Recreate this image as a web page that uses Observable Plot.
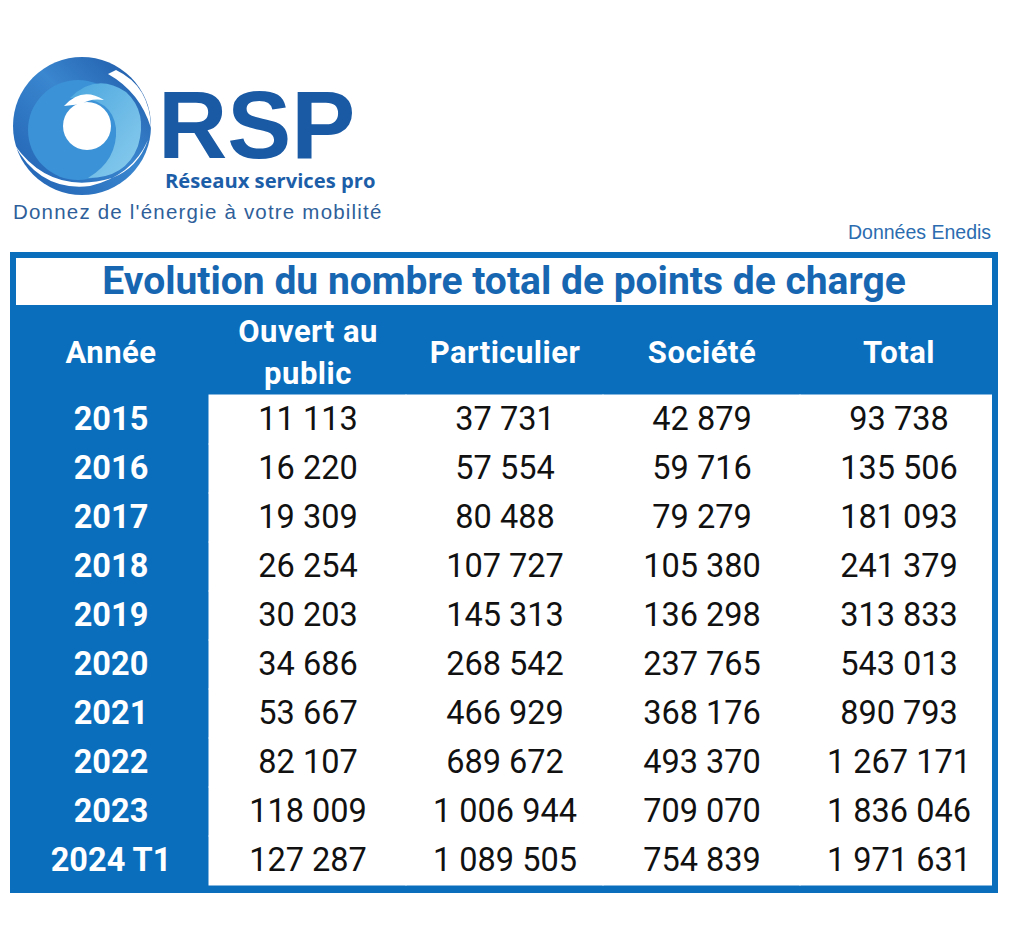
<!DOCTYPE html>
<html>
<head>
<meta charset="utf-8">
<script src="https://cdn.jsdelivr.net/npm/d3@7"></script>
<script src="https://cdn.jsdelivr.net/npm/@observablehq/plot@0.6"></script>
<style>
  html, body { margin: 0; padding: 0; background: #fff; }
  #page { position: relative; width: 1024px; height: 946px; overflow: hidden; background: #fff; font-family: Roboto, sans-serif; }
  #logo { position: absolute; left: 0; top: 0; }
  #source { position: absolute; left: 848px; top: 221px; font-family: "Liberation Sans", Arial, sans-serif; font-size: 19.5px; color: #2b6cb0; }
  #box { position: absolute; left: 10px; top: 252px; width: 988px; height: 641px; background: #0a6ebd; }
  #box svg { position: absolute; left: 0; top: 0; }
  #border { position: absolute; left: 0; top: 0; width: 988px; height: 641px; box-sizing: border-box; border: 6px solid #0a6ebd; pointer-events: none; }
  #title { position: absolute; left: 6px; top: 6px; width: 976px; height: 47px; background: #fff; color: #1666b2;
           font-family: Roboto, sans-serif; font-weight: 700; font-size: 39px;
           line-height: 47px; text-align: center; white-space: nowrap; }
</style>
</head>
<body>
<div id="page">
  <svg id="logo" width="400" height="240" viewBox="0 0 400 240">
    <defs>
      <linearGradient id="gOuter" x1="0" y1="1" x2="1" y2="0">
        <stop offset="0" stop-color="#1f5fb0"/>
        <stop offset="0.55" stop-color="#3a86cf"/>
        <stop offset="1" stop-color="#1c55a3"/>
      </linearGradient>
      <linearGradient id="gInner" x1="0" y1="0" x2="1" y2="1">
        <stop offset="0" stop-color="#4aa6de"/>
        <stop offset="1" stop-color="#8ccdee"/>
      </linearGradient>
    </defs>
    <circle cx="82" cy="126" r="69" fill="url(#gOuter)"/>
    <circle cx="78" cy="130" r="50" fill="#3c92d6"/>
    <path d="M 70 98 Q 96 72 126 92 Q 148 112 138 146 Q 126 178 88 178 Q 118 160 116 128 Q 112 96 70 98 Z" fill="url(#gInner)"/>
    <path d="M 14 144 Q 50 196 112 178 Q 138 168 148 140 Q 132 176 90 186 Q 40 192 14 144 Z" fill="#fff"/>
    <path d="M 116 70 Q 150 86 151 128 Q 140 92 108 74 Z" fill="#fff"/>
    <path d="M 64 106 Q 82 86 104 100 Q 90 98 82 104 Z" fill="#fff"/>
    <circle cx="87" cy="126" r="24" fill="#fff"/>
    <text x="158" y="158" font-family="Liberation Sans, Arial, sans-serif" font-weight="700" font-size="96" fill="#1a5aa5">RSP</text>
    <text x="165" y="188" font-family="Open Sans, sans-serif" font-weight="700" font-size="20.2" fill="#1d5ea8">Réseaux services pro</text>
    <text x="13" y="219" font-family="Liberation Sans, Arial, sans-serif" font-size="20.5" letter-spacing="1.2" fill="#2f5f9a">Donnez de l'énergie à votre mobilité</text>
  </svg>
  <div id="source">Données Enedis</div>
  <div id="box">
    <div id="title">Evolution du nombre total de points de charge</div>
    <div id="border"></div>
  </div>
</div>
<script>
// ---- Data ----
const years = ["2015","2016","2017","2018","2019","2020","2021","2022","2023","2024 T1"];
const columns = ["Année","Ouvert au public","Particulier","Société","Total"];
const headerLabels = ["Année","Ouvert au\npublic","Particulier","Société","Total"];
const ouvertAuPublic = [11113,16220,19309,26254,30203,34686,53667,82107,118009,127287];
const particulier = [37731,57554,80488,107727,145313,268542,466929,689672,1006944,1089505];
const societe = [42879,59716,79279,105380,136298,237765,368176,493370,709070,754839];
const total = [93738,135506,181093,241379,313833,543013,890793,1267171,1836046,1971631];

const series = [ouvertAuPublic, particulier, societe, total];
const cells = [];
years.forEach((y, i) => {
  series.forEach((s, j) => cells.push({year: y, col: columns[j + 1], value: s[i]}));
});
const headers = columns.map((c, i) => ({col: c, label: headerLabels[i]}));
const fmt = d3.formatLocale({thousands: " ", grouping: [3], decimal: ",", currency: ["", "€"]}).format(",d");

const chart = Plot.plot({
  width: 988,
  height: 641,
  marginTop: 141,
  marginBottom: 6,
  marginLeft: 0,
  marginRight: 0,
  x: {type: "band", domain: columns, padding: 0, axis: null},
  y: {type: "band", domain: years, padding: 0, axis: null},
  style: {background: "transparent", fontFamily: "Roboto, sans-serif", overflow: "visible"},
  marks: [
    Plot.cell(cells, {x: "col", y: "year", fill: "white", stroke: "white", strokeWidth: 1}),
    Plot.text(headers, {x: "col", text: "label", frameAnchor: "top", lineAnchor: "middle", dy: -44, fill: "white",
      fontSize: 31, fontWeight: 700, lineHeight: 1.35}),
    Plot.text(years, {x: () => "Année", y: d => d, text: d => d, fill: "white", fontSize: 32.5, fontWeight: 700}),
    Plot.text(cells, {x: "col", y: "year", text: d => fmt(d.value), fill: "#111", fontSize: 32.5})
  ]
});
chart.querySelectorAll("g[aria-label=text]")[0].setAttribute("letter-spacing", "0.5");
const box = document.getElementById("box");
box.insertBefore(chart, document.getElementById("title"));
</script>
</body>
</html>
